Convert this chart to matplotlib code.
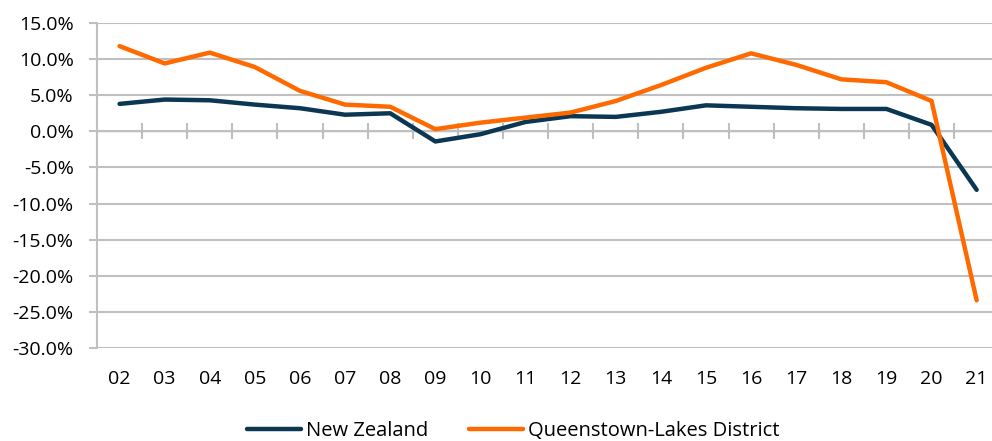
import numpy as np
import matplotlib.pyplot as plt
from matplotlib.ticker import FuncFormatter

plt.rcParams["font.family"] = ["Open Sans", "DejaVu Sans"]

years = ["02", "03", "04", "05", "06", "07", "08", "09", "10", "11",
         "12", "13", "14", "15", "16", "17", "18", "19", "20", "21"]
nz = [3.8, 4.4, 4.3, 3.7, 3.2, 2.3, 2.5, -1.4, -0.4, 1.3,
      2.1, 2.0, 2.7, 3.6, 3.4, 3.2, 3.1, 3.1, 0.9, -8.1]
qld = [11.8, 9.4, 10.9, 8.9, 5.6, 3.7, 3.4, 0.3, 1.2, 1.9,
       2.6, 4.2, 6.4, 8.8, 10.8, 9.2, 7.2, 6.8, 4.2, -23.4]

NAVY = "#0B3752"
ORANGE = "#FF6A00"
GRID = "#C0C0C0"

fig = plt.figure(figsize=(9.92, 4.41), dpi=100)
ax = fig.add_axes([97 / 992, 1 - 348 / 441, 1 - 97 / 992, (348 - 23) / 441])

x = np.arange(len(years))
ax.plot(x, nz, color=NAVY, lw=3.2, solid_capstyle="round", label="New Zealand", zorder=3)
ax.plot(x, qld, color=ORANGE, lw=3.2, solid_capstyle="round",
        label="Queenstown-Lakes District", zorder=3)

ax.set_ylim(-30, 15)
ax.set_yticks(np.arange(-30, 16, 5))
ax.yaxis.set_major_formatter(FuncFormatter(lambda v, _: f"{v:.1f}%"))
ax.set_xlim(-0.5, 19.34)
ax.set_xticks(x)
ax.set_xticklabels(years)

ax.grid(axis="y", color=GRID, lw=1.5, zorder=0)
for s in ["top", "right", "bottom"]:
    ax.spines[s].set_visible(False)
ax.spines["left"].set_color(GRID)
ax.spines["left"].set_linewidth(1.5)
ax.tick_params(axis="y", length=5.8, width=1.5, color=GRID, pad=11, labelsize=14)
ax.tick_params(axis="x", length=0, pad=16, labelsize=14)

# category boundary ticks on the zero line
sec = ax.secondary_xaxis(30 / 45)
sec.set_xticks(np.arange(0.5, 19, 1))
sec.set_xticklabels([])
sec.spines["bottom"].set_visible(False)
sec.tick_params(direction="inout", length=11, width=1.5, color=GRID)

fig.legend(loc="center", bbox_to_anchor=(513 / 992, 1 - 431 / 441), ncol=2, frameon=False,
           fontsize=14.5, handlelength=2.7, handletextpad=0.25, columnspacing=2.0,
           borderpad=0)

fig.savefig("out.png", dpi=100, facecolor="white")
